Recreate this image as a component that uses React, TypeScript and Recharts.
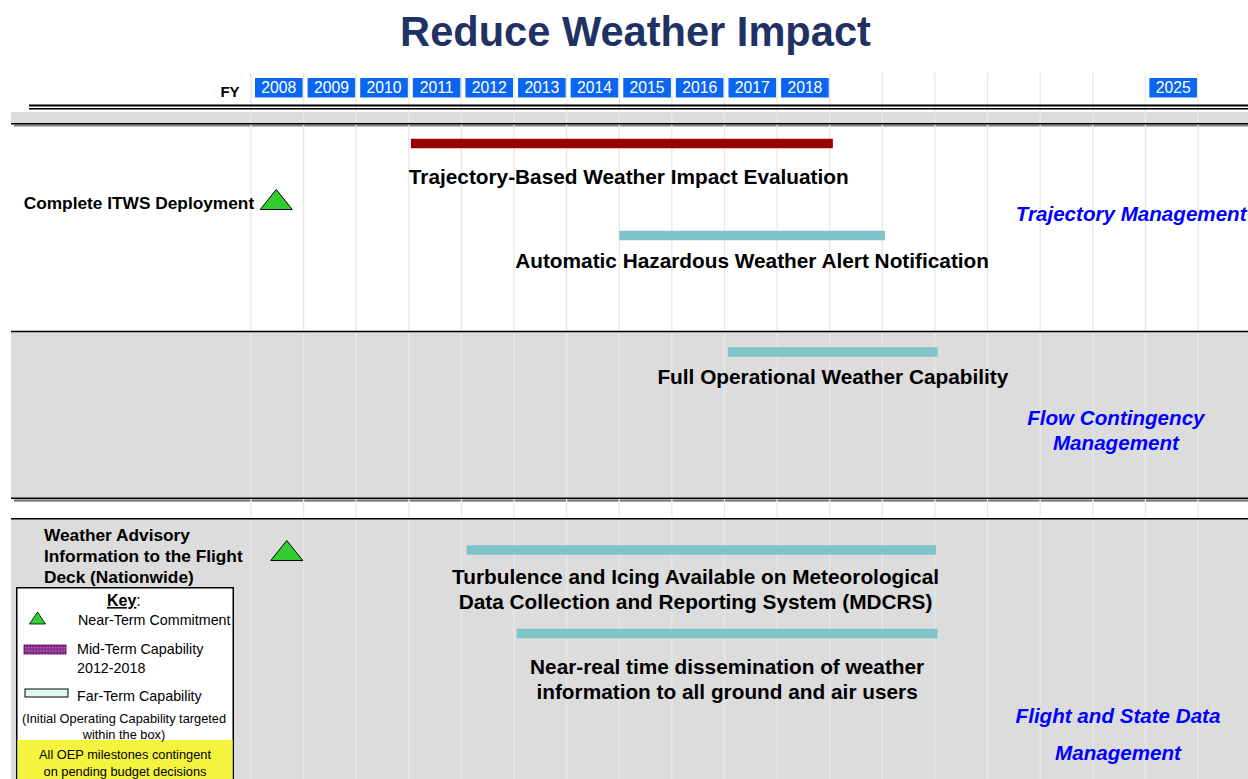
import React from 'react';
import {
  ComposedChart,
  XAxis,
  YAxis,
  Line,
  Scatter,
  ReferenceArea,
  ReferenceLine,
  Legend,
} from 'recharts';

// ================= DATA =================
const TITLE = 'Reduce Weather Impact';
const FY_LABEL = 'FY';

// fiscal-year grid (column boundaries) and the years shown in the header
const gridYears = [2008, 2009, 2010, 2011, 2012, 2013, 2014, 2015, 2016, 2017, 2018, 2019, 2020, 2021, 2022, 2023, 2024, 2025, 2026];
const yearLabels = [2008, 2009, 2010, 2011, 2012, 2013, 2014, 2015, 2016, 2017, 2018, 2025];

// capabilities (horizontal bars)
const capabilityNames = [
  'Trajectory-Based Weather Impact Evaluation',
  'Automatic Hazardous Weather Alert Notification',
  'Full Operational Weather Capability',
  'Turbulence and Icing Available on Meteorological\nData Collection and Reporting System (MDCRS)',
  'Near-real time dissemination of weather\ninformation to all ground and air users',
];
const capabilityStart = [2011.04, 2015.0, 2017.07, 2012.1, 2013.05];
const capabilityEnd = [2019.06, 2020.05, 2021.05, 2021.02, 2021.05];
const capabilityTerm = ['mid', 'far', 'far', 'far', 'far'];

// near-term commitments (triangles)
const milestoneNames = [
  'Complete ITWS Deployment',
  'Weather Advisory\nInformation to the Flight\nDeck (Nationwide)',
];
const milestoneYear = [2008.48, 2008.68];

// swim-lane sections
const sectionNames = [
  'Trajectory Management',
  'Flow Contingency\nManagement',
  'Flight and State Data\nManagement',
];

// key
const keyTitle = 'Key';
const keyNear = 'Near-Term Commitment';
const keyMid = ['Mid-Term Capability', '2012-2018'];
const keyFar = 'Far-Term Capability';
const keyNote = ['(Initial Operating Capability targeted', 'within the box)'];
const keyBudget = ['All OEP milestones contingent', 'on pending budget decisions'];

// ================= LAYOUT =================
const WIDTH = 1248;
const HEIGHT = 779;
const MARGIN_TOP = 70;
const AXIS_H = 30;
const PX_PER_YEAR = 52.61;
const X_MIN = 2008 - 251 / PX_PER_YEAR;
const X_MAX = X_MIN + WIDTH / PX_PER_YEAR;
const Y_MAX = (HEIGHT - MARGIN_TOP - AXIS_H) / 10; // vertical lane units (10px each)
const PANEL_LEFT = X_MIN + 11 / PX_PER_YEAR;
const SHADOW_LEFT = X_MIN + 14 / PX_PER_YEAR;
const RULE_LEFT = X_MIN + 29 / PX_PER_YEAR;

const capabilityLane = [4.35, 13.55, 25.2, 45.0, 53.35];
const capabilityLabelLane = [7.7, 16.1, 27.7, 47.7, 56.7];
const capabilityLabelShift = [0.13, 0, 0, -0.11, 0];

const milestoneLane = [9.95, 45.05];
const milestoneLabelX = [2008.06, 2004.065];
const milestoneLabelLane = [10.3, 43.5];
const milestoneLabelAnchor = ['end', 'start'];

const sectionLabelX = [2024.73, 2024.44, 2024.48];
const sectionLabelLane = [11.4, 31.8, 61.6];
const sectionLineGap = [25, 25, 37];

const FONT = '"Liberation Sans", Arial, Helvetica, sans-serif';
const GRID = '#e8e8e8';
const PANEL = '#dcdcdc';
const SHADOW = '#808080';
const TERM_COLOR: Record<string, string> = { mid: '#990000', far: '#7fc4c8' };
const HEADER_BLUE = '#0a66f0';
const SECTION_BLUE = '#0000ff';
const BAR_THICKNESS = 9.5;

const TEXT_STYLE: Record<string, any> = {
  bar: { fontSize: 20.8, fontWeight: 700, fontStyle: 'normal', fill: '#000', gap: 25 },
  milestone: { fontSize: 17.3, fontWeight: 700, fontStyle: 'normal', fill: '#000', gap: 20.75 },
  section: { fontSize: 20.6, fontWeight: 700, fontStyle: 'italic', fill: SECTION_BLUE, gap: 25 },
};

// ---- derived series ----
const barSeries = capabilityNames.map((name, i) => ({
  name,
  color: TERM_COLOR[capabilityTerm[i]],
  data: [
    { x: capabilityStart[i], y: capabilityLane[i] },
    { x: capabilityEnd[i], y: capabilityLane[i] },
  ],
}));

const milestonePoints = milestoneNames.map((name, i) => ({ x: milestoneYear[i], y: milestoneLane[i], name }));

const textItems = [
  ...capabilityNames.map((text, i) => ({
    x: (capabilityStart[i] + capabilityEnd[i]) / 2 + capabilityLabelShift[i],
    y: capabilityLabelLane[i],
    text,
    anchor: 'middle',
    kind: 'bar',
    gap: TEXT_STYLE.bar.gap,
  })),
  ...milestoneNames.map((text, i) => ({
    x: milestoneLabelX[i],
    y: milestoneLabelLane[i],
    text,
    anchor: milestoneLabelAnchor[i],
    kind: 'milestone',
    gap: TEXT_STYLE.milestone.gap,
  })),
  ...sectionNames.map((text, i) => ({
    x: sectionLabelX[i],
    y: sectionLabelLane[i],
    text,
    anchor: 'middle',
    kind: 'section',
    gap: sectionLineGap[i],
  })),
];

// ================= SHAPES =================
const YearTick = (props: any) => {
  const { x, y, payload } = props;
  const yr = payload.value;
  const show = yearLabels.includes(yr);
  const w = PX_PER_YEAR - 5;
  return (
    <g>
      <line x1={x} x2={x} y1={y - 27} y2={y} stroke={GRID} strokeWidth={1.3} />
      {show && (
        <g>
          <rect x={x + 4} y={y - 22} width={w} height={19.5} fill={HEADER_BLUE} />
          <text x={x + 4 + w / 2} y={y - 6.6} textAnchor="middle" fill="#fff" fontSize={15.7} fontFamily={FONT}>
            {yr}
          </text>
        </g>
      )}
    </g>
  );
};

const Triangle = (props: any) => {
  const { cx, cy } = props;
  if (cx == null || cy == null) return null;
  return (
    <polygon
      points={`${cx - 16},${cy + 10} ${cx},${cy - 10} ${cx + 16},${cy + 10}`}
      fill="#33cc33"
      stroke="#000"
      strokeWidth={1}
    />
  );
};

const TextShape = (props: any) => {
  const { cx, cy, payload } = props;
  if (cx == null || cy == null || !payload) return null;
  const st = TEXT_STYLE[payload.kind];
  const lines = String(payload.text).split('\n');
  return (
    <text
      x={cx}
      y={cy + 0.36 * st.fontSize}
      textAnchor={payload.anchor}
      fontSize={st.fontSize}
      fontWeight={st.fontWeight}
      fontStyle={st.fontStyle}
      fill={st.fill}
      fontFamily={FONT}
    >
      {lines.map((l, i) => (
        <tspan key={i} x={cx} dy={i === 0 ? 0 : payload.gap}>
          {l}
        </tspan>
      ))}
    </text>
  );
};

const KeyLegend = () => (
  <svg width={218} height={200} style={{ display: 'block', fontFamily: FONT }}>
    <defs>
      <pattern id="midPat" width="3" height="3" patternUnits="userSpaceOnUse">
        <rect width="3" height="3" fill="#8a2a8a" />
        <rect width="1.5" height="1.5" fill="#b466b4" />
      </pattern>
    </defs>
    <rect x={0.75} y={0.75} width={216.5} height={210} fill="#fff" stroke="#000" strokeWidth={1.5} />
    <rect x={1.5} y={153} width={215} height={50} fill="#f4f43e" />
    <text x={91} y={19} fontSize={16} fill="#000">
      <tspan fontWeight={700} textDecoration="underline">{keyTitle}</tspan>
      <tspan>:</tspan>
    </text>
    <polygon points="13.5,37 21.5,25 29.5,37" fill="#33cc33" stroke="#000" strokeWidth={0.8} />
    <text x={62} y={38} fontSize={14.3} fill="#000">{keyNear}</text>
    <rect x={8} y={58} width={42} height={9} fill="url(#midPat)" stroke="#4d004d" strokeWidth={0.8} />
    <text x={61} y={67} fontSize={14.3} fill="#000">{keyMid[0]}</text>
    <text x={61} y={86} fontSize={14.3} fill="#000">{keyMid[1]}</text>
    <rect x={9} y={102} width={43} height={8} fill="#dcf8f0" stroke="#000" strokeWidth={1} />
    <text x={61} y={114} fontSize={14.3} fill="#000">{keyFar}</text>
    <text x={108} y={135.5} fontSize={12.8} textAnchor="middle" fill="#000">{keyNote[0]}</text>
    <text x={108} y={151.5} fontSize={12.8} textAnchor="middle" fill="#000">{keyNote[1]}</text>
    <text x={109} y={171.5} fontSize={12.8} textAnchor="middle" fill="#000">{keyBudget[0]}</text>
    <text x={109} y={188.5} fontSize={12.8} textAnchor="middle" fill="#000">{keyBudget[1]}</text>
  </svg>
);

const FyLabel = (props: any) => {
  const vb = props.viewBox || { x: 0, y: MARGIN_TOP };
  return (
    <text x={vb.x + 230} y={vb.y + 26.5} textAnchor="middle" fontSize={15} fontWeight={700} fill="#000" fontFamily={FONT}>
      {FY_LABEL}
    </text>
  );
};

// horizontal rules: [lane, color, width, left]
const rules: [number, string, number, number][] = [
  [0.55, '#000', 2, RULE_LEFT],
  [0.87, '#000', 1.5, RULE_LEFT],
  [2.38, '#000', 1.4, PANEL_LEFT],
  [23.15, '#000', 1.5, PANEL_LEFT],
  [39.83, '#000', 1.5, PANEL_LEFT],
  [41.87, '#000', 1.5, PANEL_LEFT],
];
// filled bands: [top lane, bottom lane, color, left]
const bands: [number, number, string, number][] = [
  [1.2, 2.3, PANEL, PANEL_LEFT],
  [2.45, 2.65, SHADOW, SHADOW_LEFT],
  [23.2, 39.83, PANEL, PANEL_LEFT],
  [39.93, 40.17, SHADOW, SHADOW_LEFT],
  [41.9, Y_MAX, PANEL, PANEL_LEFT],
];

export default function App() {
  return (
    <div
      style={{
        position: 'absolute',
        left: 0,
        top: 0,
        width: WIDTH,
        height: HEIGHT,
        overflow: 'hidden',
        background: '#fff',
        fontFamily: FONT,
      }}
    >
      <div style={{ position: 'absolute', left: 0, top: 0 }}>
        <ComposedChart width={WIDTH} height={HEIGHT} margin={{ top: MARGIN_TOP, right: 0, bottom: 0, left: 0 }}>
          <XAxis
            xAxisId={0}
            dataKey="x"
            type="number"
            orientation="top"
            domain={[X_MIN, X_MAX]}
            allowDataOverflow
            ticks={gridYears}
            interval={0}
            height={AXIS_H}
            tickSize={0}
            tickMargin={0}
            axisLine={false}
            tickLine={false}
            tick={(p: any) => <YearTick {...p} />}
            label={{ content: (p: any) => <FyLabel {...p} /> } as any}
          />
          <YAxis yAxisId={0} dataKey="y" type="number" domain={[0, Y_MAX]} allowDataOverflow reversed hide />

          {bands.map(([y1, y2, color, left], i) => (
            <ReferenceArea
              key={`band-${i}`}
              x1={left}
              x2={X_MAX}
              y1={y1}
              y2={y2}
              fill={color}
              fillOpacity={1}
              stroke="none"
              ifOverflow="extendDomain"
            />
          ))}

          {gridYears.map((yr) => (
            <ReferenceLine key={`grid-${yr}`} x={yr} stroke={GRID} strokeWidth={1.3} />
          ))}

          {rules.map(([lane, color, w, left], i) => (
            <ReferenceLine
              key={`rule-${i}`}
              segment={[
                { x: left, y: lane },
                { x: X_MAX, y: lane },
              ]}
              stroke={color}
              strokeWidth={w}
            />
          ))}

          {barSeries.map((s, i) => (
            <Line
              key={`bar-${i}`}
              name={s.name}
              data={s.data}
              dataKey="y"
              stroke={s.color}
              strokeWidth={BAR_THICKNESS}
              dot={false}
              activeDot={false}
              legendType="none"
              isAnimationActive={false}
            />
          ))}

          <Scatter
            name="Near-Term Commitment"
            data={milestonePoints}
            shape={(p: any) => <Triangle {...p} />}
            legendType="none"
            isAnimationActive={false}
          />

          <Scatter
            name="labels"
            data={textItems}
            shape={(p: any) => <TextShape {...p} />}
            legendType="none"
            isAnimationActive={false}
          />

          <Legend
            layout="vertical"
            align="center"
            verticalAlign="middle"
            content={() => <KeyLegend />}
            wrapperStyle={{ left: 16, top: 587, width: 218, height: 200 }}
          />
        </ComposedChart>
      </div>
      <div
        style={{
          position: 'absolute',
          left: 0,
          top: 10.5,
          width: 1271,
          textAlign: 'center',
          fontSize: 41.6,
          lineHeight: '41.6px',
          fontWeight: 700,
          color: '#1f3264',
          fontFamily: FONT,
        }}
      >
        {TITLE}
      </div>
    </div>
  );
}
